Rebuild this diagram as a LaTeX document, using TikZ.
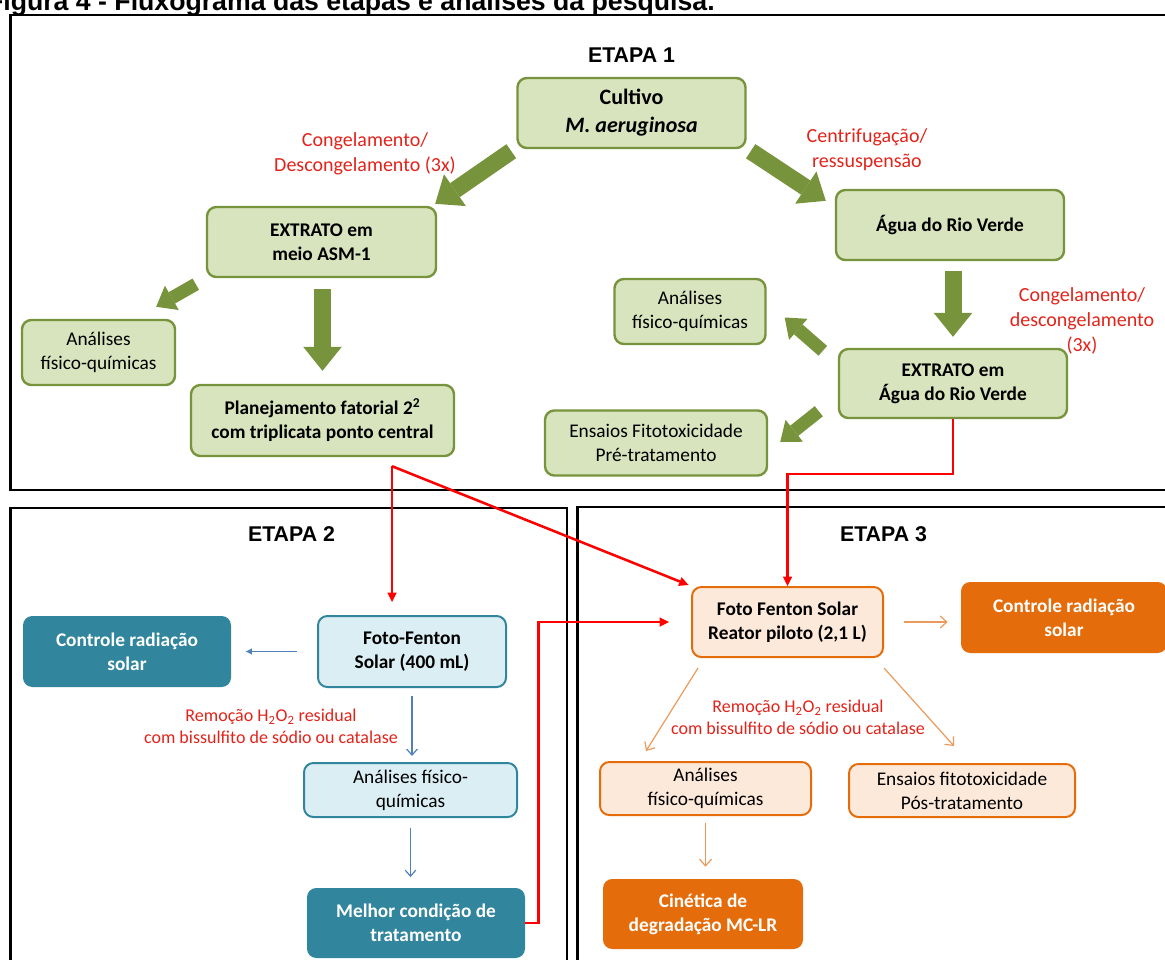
\documentclass[tikz,border=0pt]{standalone}
\usepackage{fontspec}
\setmainfont{Carlito}
\newfontfamily\headfont{Liberation Sans}
\usetikzlibrary{arrows.meta,calc}

\definecolor{olivefill}{HTML}{D7E4BD}
\definecolor{olivedraw}{HTML}{77933C}
\definecolor{tealdark}{HTML}{31859C}
\definecolor{tealfill}{HTML}{DBEEF4}
\definecolor{orangedark}{HTML}{E46C0A}
\definecolor{orangefill}{HTML}{FDE9D9}
\definecolor{orangeline}{HTML}{EB9A5C}
\definecolor{bluearrow}{HTML}{4F81BD}
\definecolor{redtext}{HTML}{E2231A}

\tikzset{
	boxtext/.style={font=\fontsize{14.5}{18}\selectfont},
	boldtext/.style={font=\fontsize{14.5}{18}\selectfont\bfseries},
	box/.style={rounded corners=7pt, align=center, inner sep=0pt, boxtext},
	greenbox/.style={box, fill=olivefill, draw=olivedraw, line width=1.8pt},
	tealbox/.style={box, fill=tealfill, draw=tealdark, line width=1.5pt},
	tealsolid/.style={box, fill=tealdark, text=white, boldtext},
	orangebox/.style={box, fill=orangefill, draw=orangedark, line width=1.5pt},
	orangesolid/.style={box, fill=orangedark, text=white, boldtext},
	frame/.style={draw=black, line width=2pt},
	steplabel/.style={inner sep=0pt, font=\headfont\bfseries\fontsize{16}{19}\selectfont},
	redlabel/.style={inner sep=0pt, align=center, text=redtext, font=\fontsize{15}{18.75}\selectfont},
	smallred/.style={inner sep=0pt, align=center, text=redtext, font=\fontsize{13.5}{16.5}\selectfont},
	bigarrow/.style={draw=olivedraw, line width=12.75pt, -{Triangle[length=18pt,width=29pt,line width=0pt]}},
	smallarrow/.style={draw=olivedraw, line width=9.75pt, -{Triangle[length=13.5pt,width=21pt,line width=0pt]}},
	redline/.style={draw=red, line width=1.9pt, -{Triangle[length=7pt,width=7pt,line width=0pt]}},
	bluelink/.style={draw=bluearrow, line width=0.9pt, -{Straight Barb[length=4.5pt,width=8pt]}},
	blueleft/.style={draw=bluearrow, line width=0.9pt, -{Latex[length=5pt,width=5pt]}},
	orangelink/.style={draw=orangeline, line width=0.9pt, -{Straight Barb[length=5pt,width=9pt]}}
}

\begin{document}
\begin{tikzpicture}[x=0.75pt, y=-0.75pt]
	
	\useasboundingbox (0,0) rectangle (1165,960);
	
	\node[inner sep=0pt, anchor=base east, font=\headfont\bfseries\fontsize{20}{24}\selectfont] (title) at (715,10.5) {Figura 4 - Fluxograma das etapas e análises da pesquisa.};
	
	\draw[frame] (10.5,15) rectangle (1180,490);
	\draw[frame] (10.5,508) rectangle (567,975);
	\draw[frame] (577.5,507) rectangle (1180,975);
	
	\node[steplabel] (etapa1) at (631.5,55) {ETAPA 1};
	\node[steplabel] (etapa2) at (291.5,534) {ETAPA 2};
	\node[steplabel] (etapa3) at (883.5,534) {ETAPA 3};
	
	\node[greenbox, minimum width=171pt, minimum height=52.5pt, font=\fontsize{16.5}{21}\selectfont\bfseries] (cult) at (631.5,113) {Cultivo\\\textit{M. aeruginosa}};
	\node[greenbox, boldtext, minimum width=171.75pt, minimum height=52.5pt] (asm) at (321.5,242) {EXTRATO em\\meio ASM-1};
	\node[greenbox, boldtext, minimum width=171pt, minimum height=52.5pt] (agua) at (950,225) {Água do Rio Verde};
	\node[greenbox, minimum width=114.75pt, minimum height=48.75pt] (anL) at (98.5,352.5) {Análises\\físico-químicas};
	\node[greenbox, boldtext, minimum width=197.25pt, minimum height=53.25pt] (plan) at (322.5,420.5) {Planejamento fatorial 2\textsuperscript{2}\\com triplicata ponto central};
	\node[greenbox, minimum width=113.25pt, minimum height=48.75pt] (anR) at (690,311.5) {Análises\\físico-químicas};
	\node[greenbox, boldtext, minimum width=171pt, minimum height=51.75pt] (erv) at (953,383.5) {EXTRATO em\\Água do Rio Verde};
	\node[greenbox, minimum width=166.5pt, minimum height=48.75pt] (ens1) at (656,443) {Ensaios Fitotoxicidade\\Pré-tratamento};
	
	\node[redlabel] (lab1) at (365,153.5) {Congelamento/\\Descongelamento (3x)};
	\node[redlabel] (lab2) at (867,150) {Centrifugação/\\ressuspensão};
	\node[redlabel] (lab3) at (1082,321) {Congelamento/\\descongelamento\\(3x)};
	
	\draw[bigarrow] ($(cult.south west)+(-5,2)$) -- ($(asm.north east)+(-2,-2)$);
	\draw[bigarrow] ($(cult.south east)+(4,2)$) -- ($(agua.north west)+(-9,12)$);
	\draw[smallarrow] ($(asm.south west)+(-10,6)$) -- ($(anL.north east)+(-20,-12)$);
	\draw[bigarrow] ($(asm.south)+(1,11)$) -- ($(plan.north)+(0,-13)$);
	\draw[bigarrow] ($(agua.south)+(3,10)$) -- ($(erv.north)+(0,-11)$);
	\draw[smallarrow] ($(erv.north west)+(-15,3)$) -- ($(anR.east)+(18,6)$);
	\draw[smallarrow] ($(erv.south west)+(-19,-8)$) -- ($(ens1.east)+(12,-1)$);
	
	\node[tealsolid, minimum width=156pt, minimum height=53.25pt] (ctl2) at (127,651.5) {Controle radiação\\solar};
	\node[tealbox, boldtext, minimum width=141pt, minimum height=53.25pt] (ff2) at (412,651.5) {Foto-Fenton\\Solar (400 mL)};
	\node[tealbox, minimum width=159.75pt, minimum height=40.5pt] (an2) at (410.5,790) {Análises físico-\\químicas};
	\node[tealsolid, minimum width=163.5pt, minimum height=52.5pt] (best) at (416,923) {Melhor condição de\\tratamento};
	
	\node[smallred] (lab4) at (271,726) {Remoção H\textsubscript{2}O\textsubscript{2} residual\\com bissulfito de sódio ou catalase};
	
	\draw[blueleft] ($(ff2.west)+(-20,0)$) -- ($(ctl2.east)+(14,0)$);
	\draw[bluelink, shorten <=6pt, shorten >=4.5pt] (ff2.south) -- (ff2.south |- an2.north);
	\draw[bluelink, shorten <=7.5pt, shorten >=8pt] (an2.south) -- (an2.south |- best.north);
	
	\node[orangebox, boldtext, minimum width=143.25pt, minimum height=52.5pt] (ff3) at (787.5,622) {Foto Fenton Solar\\Reator piloto (2,1 L)};
	\node[orangesolid, minimum width=154.5pt, minimum height=53.25pt] (ctl3) at (1064,617.5) {Controle radiação\\solar};
	\node[orangebox, minimum width=158.25pt, minimum height=39.75pt] (an3) at (705.5,788.5) {Análises\\físico-químicas};
	\node[orangebox, minimum width=169.5pt, minimum height=39.75pt] (ens3) at (962,790.5) {Ensaios fitotoxicidade\\Pós-tratamento};
	\node[orangesolid, minimum width=150pt, minimum height=52.5pt] (cin) at (703,914) {Cinética de\\degradação MC-LR};
	
	\node[smallred] (lab5) at (798,717.5) {Remoção H\textsubscript{2}O\textsubscript{2} residual\\com bissulfito de sódio ou catalase};
	
	\draw[orangelink, shorten <=15pt, shorten >=9.75pt] (ff3.east) -- (ff3.east -| ctl3.west);
	\draw[orangelink] ($(ff3.south west)+(7,10)$) -- ($(an3.north west)+(47,-10)$);
	\draw[orangelink] ($(ff3.south east)+(0,10)$) -- ($(ens3.north west)+(106,-17)$);
	\draw[orangelink, shorten <=5pt, shorten >=9pt] (an3.south) -- (an3.south |- cin.north);
	
	\coordinate (fork) at ($(plan.south)+(69.5,9)$);
	\draw[redline, shorten >=9.75pt] (fork) -- (fork |- ff2.north);
	\draw[redline, shorten >=2pt] (fork) -- (ff3.north west);
	\draw[redline] (erv.south) -- ++(0,55) -| (ff3.north);
	\draw[redline, shorten >=16.5pt] (best.east) -- ++(13,0) |- (ff3.west);
	
\end{tikzpicture}
\end{document}
